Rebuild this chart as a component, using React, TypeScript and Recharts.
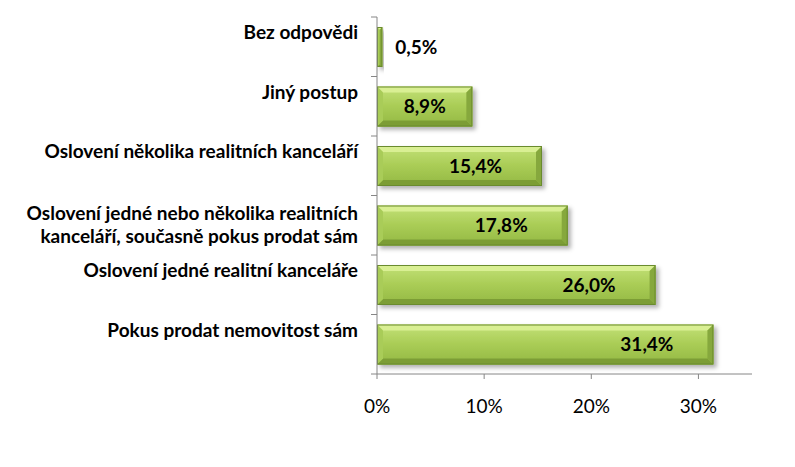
import { BarChart, Bar, XAxis, YAxis, LabelList } from 'recharts';

const categories = [
  'Bez odpovědi',
  'Jiný postup',
  'Oslovení několika realitních kanceláří',
  'Oslovení jedné nebo několika realitních|kanceláří, současně pokus prodat sám',
  'Oslovení jedné realitní kanceláře',
  'Pokus prodat nemovitost sám',
];
const shares = [0.005, 0.089, 0.154, 0.178, 0.26, 0.314];
const xTicks = [0, 0.1, 0.2, 0.3];

const data = categories.map((name, i) => ({ name, value: shares[i] }));

const W = 795;
const H = 467;
const TOP = 17;
const AXIS_Y = 374;
const LEFT = 377;
const RIGHT = 752;
const BAND = (AXIS_Y - TOP) / categories.length;
const FONT = 'Lato, "Open Sans", sans-serif';

const pct = (v: number) => `${Math.round(v * 100)}%`;
const pctLabel = (v: number) => `${(v * 100).toFixed(1).replace('.', ',')}%`;

function CategoryTick(props: any) {
  const { y, payload, index } = props;
  const lines = String(payload.value).split('|');
  const isLast = index === categories.length - 1;
  const tx = LEFT - 19;
  return (
    <g>
      <line x1={LEFT - 6} x2={LEFT} y1={y - BAND / 2} y2={y - BAND / 2} stroke="#868686" />
      {isLast && <line x1={LEFT - 6} x2={LEFT} y1={y + BAND / 2} y2={y + BAND / 2} stroke="#868686" />}
      <text
        x={tx}
        y={lines.length === 1 ? y - 14 : y - 12}
        textAnchor="end"
        fontFamily={FONT}
        fontWeight="bold"
        fontSize={19}
        fill="#000"
      >
        {lines.map((l, i) => (
          <tspan key={i} x={tx} dy={i === 0 ? '0.35em' : 23}>
            {l}
          </tspan>
        ))}
      </text>
    </g>
  );
}

function BevelBar(props: any) {
  const { x, y, width, height } = props;
  if (!width || width <= 0) return null;
  const b = Math.min(6, width / 2);
  const r = x + width;
  const btm = y + height;
  return (
    <g filter="url(#barShadow)">
      <rect x={x} y={y} width={width} height={height} fill="url(#barFill)" />
      <polygon points={`${x},${y} ${r},${y} ${r - b},${y + b} ${x + b},${y + b}`} fill="#d9ef93" />
      <polygon points={`${x},${btm} ${r},${btm} ${r - b},${btm - b} ${x + b},${btm - b}`} fill="#7c9d36" />
      <polygon points={`${x},${y} ${x + b},${y + b} ${x + b},${btm - b} ${x},${btm}`} fill="#a9cc58" />
      <polygon points={`${r},${y} ${r - b},${y + b} ${r - b},${btm - b} ${r},${btm}`} fill="#86a83c" />
      <rect x={x + 0.5} y={y + 0.5} width={width - 1} height={height - 1} fill="none" stroke="#6b8b2e" strokeWidth={1} />
    </g>
  );
}

function ValueLabel(props: any) {
  const { x, y, width, height, value } = props;
  const cy = y + height / 2;
  let tx = x + width - 40;
  let anchor: 'start' | 'middle' | 'end' = 'end';
  if (width < 40) {
    tx = x + width + 13;
    anchor = 'start';
  } else if (width < 120) {
    tx = x + width / 2;
    anchor = 'middle';
  }
  return (
    <text
      x={tx}
      y={cy}
      dy="0.35em"
      textAnchor={anchor}
      fontFamily={FONT}
      fontWeight="bold"
      fontSize={19}
      fill="#000"
    >
      {pctLabel(value)}
    </text>
  );
}

export default function App() {
  return (
    <div style={{ position: 'absolute', left: 0, top: 0, width: W, height: H, background: '#fff' }}>
      <BarChart
        width={W}
        height={H}
        data={data}
        layout="vertical"
        margin={{ top: TOP, right: W - RIGHT, left: 0, bottom: 0 }}
        barCategoryGap={0}
      >
        <defs>
          <linearGradient id="barFill" x1="0" y1="0" x2="0" y2="1">
            <stop offset="0%" stopColor="#c3e178" />
            <stop offset="50%" stopColor="#a9cc55" />
            <stop offset="100%" stopColor="#93b844" />
          </linearGradient>
          <filter id="barShadow" x="-10%" y="-20%" width="130%" height="160%">
            <feDropShadow dx="3" dy="3" stdDeviation="2" floodColor="#000" floodOpacity="0.3" />
          </filter>
        </defs>
        <XAxis
          type="number"
          domain={[0, 0.35]}
          ticks={xTicks}
          tickFormatter={pct}
          height={H - AXIS_Y}
          stroke="#868686"
          tickSize={5}
          tickMargin={21}
          tick={{ fill: '#000', fontFamily: FONT, fontSize: 19 }}
          allowDataOverflow
        />
        <YAxis
          type="category"
          dataKey="name"
          width={LEFT}
          stroke="#868686"
          tickLine={false}
          tick={<CategoryTick />}
          interval={0}
        />
        <Bar dataKey="value" barSize={40} shape={<BevelBar />} isAnimationActive={false}>
          <LabelList dataKey="value" content={<ValueLabel />} />
        </Bar>
      </BarChart>
    </div>
  );
}
